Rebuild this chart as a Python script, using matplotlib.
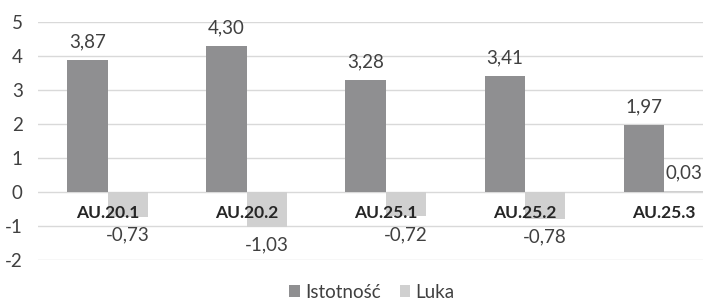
import numpy as np
import matplotlib.pyplot as plt
from matplotlib import transforms

categories = ['AU.20.1', 'AU.20.2', 'AU.25.1', 'AU.25.2', 'AU.25.3']
istotnosc = [3.87, 4.30, 3.28, 3.41, 1.97]
luka = [-0.73, -1.03, -0.72, -0.78, 0.03]
y_ticks = [-2, -1, 0, 1, 2, 3, 4, 5]

plt.rcParams['font.family'] = ['Lato', 'DejaVu Sans']

dark = '#8f8f91'
light = '#d0d0d0'
text_col = '#404040'
fs = 13.5

fig = plt.figure(figsize=(7.23, 3.01), dpi=100)
ax = fig.add_axes([38 / 723, 1 - 260 / 301, 665 / 723, 238 / 301])

x = np.arange(len(categories))
w = 0.29
b1 = ax.bar(x - w / 2, istotnosc, w, color=dark, label='Istotność', zorder=2)
b2 = ax.bar(x + w / 2, luka, w, color=light, label='Luka', zorder=2)

# data labels, polish decimal comma
for bars, vals in ((b1, istotnosc), (b2, luka)):
    for rect, v in zip(bars, vals):
        off = 7 if v >= 0 else -7
        ax.annotate(f'{v:.2f}'.replace('.', ','),
                    (rect.get_x() + rect.get_width() / 2, v),
                    xytext=(0, off), textcoords='offset points',
                    ha='center', va='bottom' if v >= 0 else 'top',
                    fontsize=fs, color=text_col)

# category labels sit just under the zero line
offset = transforms.offset_copy(ax.transData, fig=fig, x=0, y=-9, units='points')
for xi, cat in zip(x, categories):
    ax.text(xi, 0, cat, ha='center', va='top', fontsize=12.5,
            fontweight='bold', color='#262626', transform=offset, zorder=3)

ax.set_xlim(-0.5, 4.28)
ax.set_ylim(-2, 5)
ax.set_yticks(y_ticks)
ax.set_yticklabels([str(t) for t in y_ticks], fontsize=fs, color=text_col)
ax.set_xticks([])
ax.tick_params(axis='y', length=0, pad=11)
ax.grid(axis='y', color='#d9d9d9', linewidth=1, zorder=0)
for s in ax.spines.values():
    s.set_visible(False)

fig.legend(loc='center', bbox_to_anchor=(372 / 723, 1 - 292 / 301), ncol=2,
           frameon=False, fontsize=fs, handlelength=0.55, handleheight=0.55,
           handletextpad=0.3, columnspacing=1.0, labelcolor=text_col)

fig.savefig('out.png', dpi=100)
